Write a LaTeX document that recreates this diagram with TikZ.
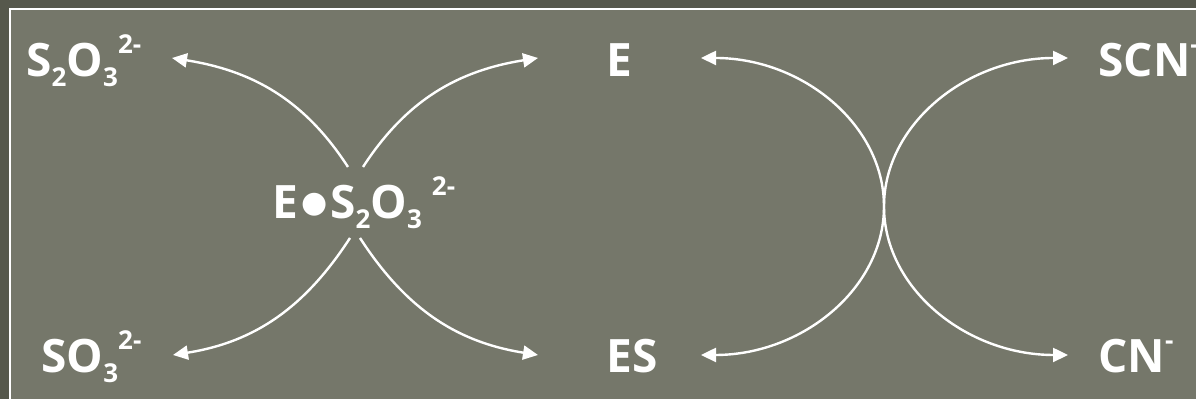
\documentclass[tikz,border=0pt]{standalone}
\usepackage{fontspec}
\setmainfont{Open Sans}
\newfontfamily\symfont{DejaVu Sans}
\usetikzlibrary{arrows.meta}
\definecolor{slidebg}{HTML}{75776A}
\definecolor{slideout}{HTML}{56584C}
\newcommand{\chlo}[1]{\raisebox{-5pt}{\fontsize{13}{13}\selectfont #1}}
\newcommand{\chhi}[1]{\raisebox{11.5pt}{\fontsize{13}{13}\selectfont #1}}
\tikzset{
  spc/.style     = {text=white, font=\fontsize{23}{26}\selectfont\bfseries,
                    inner sep=0pt, anchor=base west},
  rxn/.style     = {draw=white, line width=1.2pt, -{Triangle[length=7.5pt, width=7pt]}},
  rxnboth/.style = {rxn, {Triangle[length=7.5pt, width=7pt]}-{Triangle[length=7.5pt, width=7pt]}}
}
\begin{document}
\begin{tikzpicture}[x=0.5pt, y=0.5pt]
  \useasboundingbox (0,0) rectangle (1196,399);
  \clip (0,0) rectangle (1196,399);
  \fill[slideout] (0,0) rectangle (1196,399);
  \draw[white, line width=1pt, fill=slidebg] (9.5,389.5) rectangle (1220,-20);
  % species
  \node[spc] (thio) at (26,322)  {S\chlo{2}O\chlo{3}\chhi{2-}};
  \node[spc] (sulf) at (41,26)   {SO\chlo{3}\chhi{2-}};
  \node[spc] (cplx) at (272,180) {E\hspace{1.5pt}\raisebox{3pt}{\symfont\fontsize{15}{15}\selectfont ●}\hspace{1.5pt}S\chlo{2}O\chlo{3}\hspace{5pt}\chhi{2-}};
  \node[spc] (enz)  at (606,322) {E};
  \node[spc] (enzs) at (606,26)  {ES};
  \node[spc] (scn)  at (1098,322) {SCN\chhi{-}};
  \node[spc] (cn)   at (1098,26)  {CN\chhi{-}};
  % arrow ends
  \coordinate (cxUL) at (348,232);
  \coordinate (cxUR) at (363,232);
  \coordinate (cxLL) at (350,161);
  \coordinate (cxLR) at (360,161);
  \coordinate (thioTip) at (172,341);
  \coordinate (sulfTip) at (173,44);
  \coordinate (enzTipL) at (538,341);
  \coordinate (enzsTipL) at (538,44);
  \coordinate (enzTipR) at (701,341);
  \coordinate (scnTip) at (1068,341);
  % thiosulfate splitting
  \draw[rxn] (cxUL) to[out=123, in=-9] (thioTip);
  \draw[rxn] (cxUR) to[out=57, in=189] (enzTipL);
  \draw[rxn] (cxLL) to[out=-123, in=9] (sulfTip);
  \draw[rxn] (cxLR) to[out=-57, in=171] (enzsTipL);
  % sulfur transfer to cyanide
  \draw[rxnboth] (enzTipR) arc[start angle=90, end angle=-90, x radius=183, y radius=148.5];
  \draw[rxnboth] (scnTip) arc[start angle=90, end angle=270, x radius=184, y radius=148.5];
\end{tikzpicture}
\end{document}
